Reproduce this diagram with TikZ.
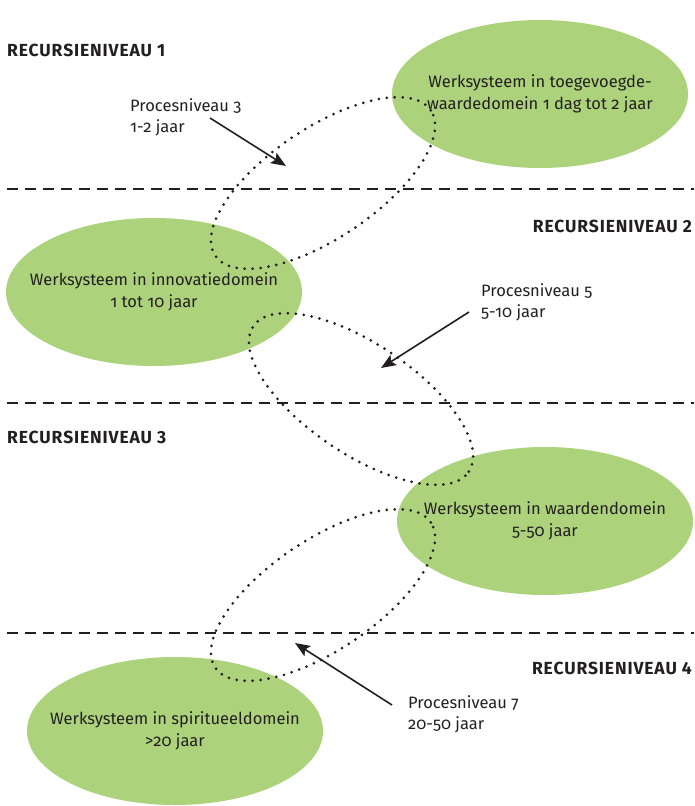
\documentclass[tikz,border=0pt]{standalone}
\usepackage{fontspec}
\setmainfont{Fira Sans}[Numbers=OldStyle]
\newfontfamily\headfont{Fira Sans}[Numbers=Lining,LetterSpace=5]
\usetikzlibrary{shapes.geometric,arrows.meta}
\definecolor{leaf}{RGB}{173,210,124}
\definecolor{ink}{RGB}{35,31,32}
\begin{document}
\begin{tikzpicture}[x=1pt,y=-1pt,
  werk/.style={ellipse, fill=leaf, minimum width=296pt, minimum height=148pt, inner sep=-60pt, align=center, text=ink, font=\fontsize{16.5}{22}\selectfont},
  loop/.style={ellipse, draw=ink, line width=3pt, dash pattern=on 0pt off 8pt, line cap=round, minimum width=260pt, minimum height=110pt, inner sep=0pt},
  level/.style={draw=ink, line width=2pt, dash pattern=on 11pt off 7pt},
  head/.style={font=\headfont\bfseries\fontsize{17.5}{20}\selectfont, text=ink, inner sep=0pt},
  lab/.style={align=left, font=\fontsize{16.5}{21}\selectfont, inner sep=0pt, text=ink},
  pijl/.style={draw=ink, line width=1.6pt, -{Stealth[length=15pt,width=12pt,inset=3pt]}}
]
\useasboundingbox (0,0) rectangle (694,806);
\fill[white] (0,0) rectangle (694,806);

% level separators
\coordinate (l1a) at (7,189);  \coordinate (l1b) at (694,189);
\coordinate (l2a) at (7,403);  \coordinate (l2b) at (694,403);
\coordinate (l3a) at (7,633);  \coordinate (l3b) at (694,633);
\draw[level] (l1a) -- (l1b);
\draw[level] (l2a) -- (l2b);
\draw[level] (l3a) -- (l3b);

% recursion level headings
\node[head, anchor=west] (r1) at (7,50) {RECURSIENIVEAU 1};
\node[head, anchor=east] (r2) at (692,226) {RECURSIENIVEAU 2};
\node[head, anchor=west] (r3) at (7,437) {RECURSIENIVEAU 3};
\node[head, anchor=east] (r4) at (692,668) {RECURSIENIVEAU 4};

% work systems
\node[werk] (w1) at (540,94) {Werksysteem in toegevoegde-\\waardedomein 1 dag tot 2 jaar};
\node[werk] (w2) at (154,292) {Werksysteem in innovatiedomein\\1 tot 10 jaar};
\node[werk] (w3) at (545,521) {Werksysteem in waardendomein\\5-50 jaar};
\node[werk] (w4) at (175,731) {Werksysteem in spiritueeldomein\\>20 jaar};

% process loops
\node[loop, rotate=34] (p1) at (323,183) {};
\node[loop, rotate=-34] (p2) at (361,399) {};
\node[loop, rotate=34] (p3) at (323,595) {};

% process labels
\node[lab, anchor=west] (t1) at (130,117) {Procesniveau 3\\1-2 jaar};
\node[lab, anchor=west] (t2) at (481,302) {Procesniveau 5\\5-10 jaar};
\node[lab, anchor=west] (t3) at (408,714) {Procesniveau 7\\20-50 jaar};

\coordinate (a1s) at (210,118); \coordinate (a1e) at (286,166);
\coordinate (a2s) at (469,312); \coordinate (a2e) at (381,368);
\coordinate (a3s) at (392,705); \coordinate (a3e) at (295,643);
\draw[pijl] (a1s) -- (a1e);
\draw[pijl] (a2s) -- (a2e);
\draw[pijl] (a3s) -- (a3e);
\end{tikzpicture}
\end{document}
